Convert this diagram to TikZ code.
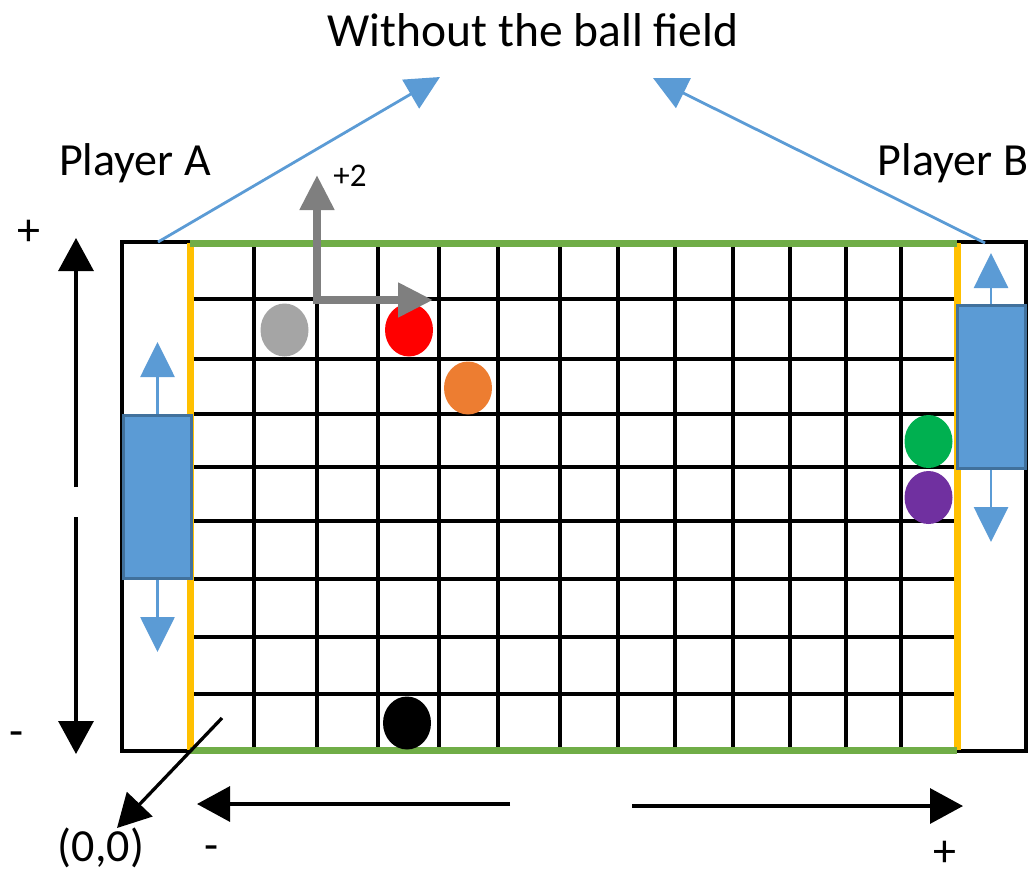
\documentclass[tikz,border=0pt]{standalone}
\usepackage{fontspec}
\setmainfont{Carlito}
\usepackage{tikz}
\usetikzlibrary{arrows.meta,shapes.geometric}
\definecolor{padblue}{RGB}{91,155,213}
\definecolor{padedge}{RGB}{65,113,156}
\definecolor{wallgreen}{RGB}{112,173,71}
\definecolor{goalyellow}{RGB}{255,192,0}
\definecolor{axisgray}{RGB}{127,127,127}
\definecolor{ballgray}{RGB}{165,165,165}
\definecolor{ballorange}{RGB}{237,125,49}
\definecolor{ballgreen}{RGB}{0,176,80}
\definecolor{ballpurple}{RGB}{112,48,160}

\begin{document}
\begin{tikzpicture}[x=1pt, y=-1pt,
    lbl/.style={font=\fontsize{46}{55}\selectfont, inner sep=0pt, anchor=base},
    ball/.style={ellipse, minimum width=48pt, minimum height=53pt, inner sep=0pt},
    paddle/.style={rectangle, draw=padedge, fill=padblue, line width=3pt, minimum width=68pt, minimum height=163pt, inner sep=0pt},
    gridline/.style={line width=3.3pt},
    blk/.style={line width=3.3pt, -{Triangle[length=33pt,width=35pt]}},
    blu/.style={draw=padblue, line width=2.8pt, -{Triangle[length=34pt,width=33pt]}},
    padarrow/.style={draw=padblue, line width=2.8pt, -{Triangle[length=35pt,width=34pt]}}
]
    \useasboundingbox (0,0) rectangle (1033,873);

    % playing grid
    \foreach \gx in {254,317,378,439,498,560,618,675,733,790,846,901}
        \draw[gridline] (\gx,243) -- (\gx,751);
    \foreach \gy in {299,359,414,467,521,579,637,694}
        \draw[gridline] (190,\gy) -- (957,\gy);
    \draw[line width=4.5pt] (122,242) rectangle (1026,751);
    \draw[goalyellow, line width=7pt] (190,243) -- (190,750) (957,243) -- (957,750);
    \draw[wallgreen, line width=7pt] (190,243) -- (957,243) (190,750) -- (957,750);

    % paddles
    \node[paddle] (padA) at (157.5,497) {};
    \node[paddle] (padB) at (991,387) {};
    \coordinate (padAup) at (157.5,342);
    \coordinate (padAdown) at (157.5,652);
    \coordinate (padBup) at (991,253);
    \coordinate (padBdown) at (991,542);
    \draw[padarrow] (padA.north) -- (padAup);
    \draw[padarrow] (padA.south) -- (padAdown);
    \draw[padarrow] (padB.north) -- (padBup);
    \draw[padarrow] (padB.south) -- (padBdown);

    % balls
    \node[ball, fill=ballgray] (gray) at (284.5,330) {};
    \node[ball, fill=red] (red) at (409,330) {};
    \node[ball, fill=ballorange] (orange) at (468,388) {};
    \node[ball, fill=ballgreen] (green) at (928.5,441.5) {};
    \node[ball, fill=ballpurple] (purple) at (928.5,497.5) {};
    \node[ball, fill=black] (black) at (407,723) {};

    % step arrows
    \coordinate (orig) at (317,300);
    \coordinate (ystep) at (317,175);
    \coordinate (xstep) at (433,300);
    \draw[axisgray, line width=8pt, {Triangle[length=35pt,width=33pt]}-{Triangle[length=35pt,width=33pt]}] (ystep) -- (orig) -- (xstep);
    \node[font=\fontsize{33}{40}\selectfont, inner sep=0pt, anchor=base] (step) at (350,186) {+2};

    % labels
    \node[lbl, font=\fontsize{47.5}{57}\selectfont] (title) at (533,46) {Without the ball field};
    \node[lbl] (playA) at (135,175) {Player A};
    \node[lbl] (playB) at (953,175) {Player B};
    \node[lbl] (vplus) at (29,245) {+};
    \node[lbl] (vminus) at (17,746) {-};
    \node[lbl] (origin) at (101,861) {(0,0)};
    \node[lbl] (hminus) at (212,860) {-};
    \node[lbl] (hplus) at (945,866) {+};

    % pointers to the title
    \coordinate (cornA) at (158,242);
    \coordinate (tipA) at (440,77);
    \coordinate (cornB) at (985,243);
    \coordinate (tipB) at (653,78);
    \draw[blu] (cornA) -- (tipA);
    \draw[blu] (cornB) -- (tipB);

    % axis arrows
    \coordinate (vtop) at (76,238);
    \coordinate (vmidA) at (76,487);
    \coordinate (vmidB) at (76,517);
    \coordinate (vbot) at (76,754);
    \draw[blk] (vmidA) -- (vtop);
    \draw[blk] (vmidB) -- (vbot);
    \coordinate (hleft) at (197,804);
    \coordinate (hmidA) at (510,804);
    \coordinate (hmidB) at (632,806);
    \coordinate (hright) at (963,806);
    \draw[blk] (hmidA) -- (hleft);
    \draw[blk] (hmidB) -- (hright);
    \coordinate (diagstart) at (222,718);
    \coordinate (zero) at (117,828);
    \draw[blk] (diagstart) -- (zero);
\end{tikzpicture}
\end{document}
